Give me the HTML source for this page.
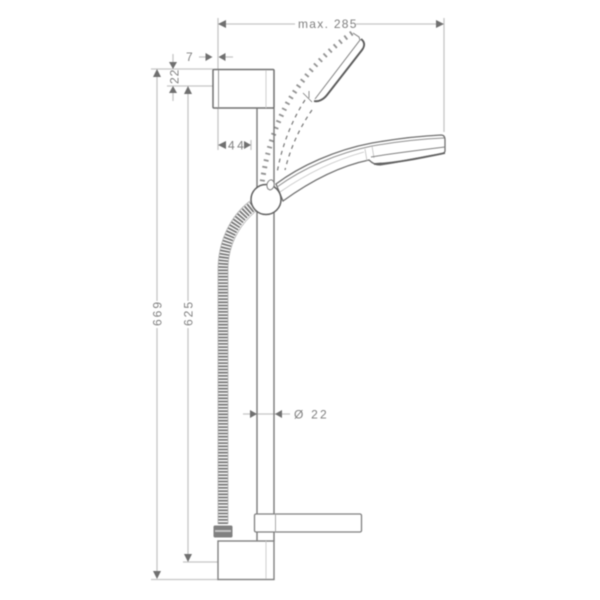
<!DOCTYPE html>
<html>
<head>
<meta charset="utf-8">
<style>
html,body{margin:0;padding:0;background:#fff;width:600px;height:600px;overflow:hidden}
svg{display:block;filter:blur(0.55px)}
text{font-family:"Liberation Sans",sans-serif;font-size:12px;fill:#808080;letter-spacing:2px}
</style>
</head>
<body>
<svg width="600" height="600" viewBox="0 0 600 600" xmlns="http://www.w3.org/2000/svg">
<rect width="600" height="600" fill="#fff"/>
<!-- dimension lines -->
<g stroke="#c6c6c6" stroke-width="1.300" fill="none">
<path d="M218 18V150"/>
<path d="M444 18V132"/>
<path d="M224 24H295M356 24H438"/>
<path d="M199 57H206M224 57H233"/>
<path d="M173 54V63M173 92V101"/>
<path d="M151 69H213M167 86H213"/>
<path d="M157 75V301M157 328V574"/>
<path d="M188 92V301M188 328V557"/>
<path d="M183 562H218M151 579.500H218"/>
<path d="M251 140V150"/>
<path d="M243 414H281M281 414H290"/>
</g>
<g fill="#707070">
<path d="M218 24l8-4v8zM444 24l-8-4v8z"/>
<path d="M212.500 57l-7-4v8zM218.500 57l7-4v8z"/>
<path d="M173 69l-4-7h8zM173 86l-4 7h8z"/>
<path d="M157 69l-4 8h8zM157 579l-4-8h8z"/>
<path d="M188 86l-4 8h8zM188 562l-4-8h8z"/>
<path d="M218 145l8-4v8zM251 145l-7-4v8z"/>
<path d="M257 414l-7-4v8zM275 414l7-4v8z"/>
</g>
<!-- labels -->
<text x="298" y="28" style="letter-spacing:1.300px">max. 285</text>
<text x="186" y="61">7</text>
<text x="228" y="149.500" style="letter-spacing:2.500px">44</text>
<text x="294" y="418.500" style="letter-spacing:2.200px">Ø 22</text>
<text transform="translate(178.500,84) rotate(-90)" style="letter-spacing:1px">22</text>
<text transform="translate(161.500,326) rotate(-90)">669</text>
<text transform="translate(192.500,326) rotate(-90)">625</text>
<!-- rail -->
<g fill="none" stroke="#7a7a7a" stroke-width="1.400">
<path d="M257 108V514M257 532V541"/>
<path d="M274 108V514M274 532V541"/>
</g>
<!-- top bracket -->
<rect x="213" y="69.500" width="61" height="38.500" rx="1" fill="#fff" stroke="#707070" stroke-width="1.500"/>
<path d="M218.500 70V108" stroke="#999" stroke-width="1" fill="none"/>
<path d="M266 70V108" stroke="#cfcfcf" stroke-width="1" fill="none"/>
<!-- bottom bracket -->
<rect x="218" y="541" width="56" height="38.500" fill="#fff" stroke="#808080" stroke-width="1.400"/>
<path d="M266 541V579" stroke="#cfcfcf" stroke-width="1" fill="none"/>
<!-- soap dish -->
<rect x="254.500" y="514" width="107" height="18" rx="1.500" fill="#fff" stroke="#808080" stroke-width="1.300"/>
<path d="M275.500 514V532" stroke="#aaa" stroke-width="1" fill="none"/>
<!-- hose -->
<path d="M223 524V270C223 245 232 222 253 206" fill="none" stroke="#7a7a7a" stroke-width="10" stroke-dasharray="1.800 1.400"/>
<path d="M218 524V270C218 243 229 217 250 201M228 524V270C228 248 236 228 256 211" fill="none" stroke="#b0b0b0" stroke-width="0.800"/>
<rect x="214" y="526" width="18" height="11" rx="1" fill="#808080" stroke="#808080"/>
<rect x="215" y="530" width="16" height="2" fill="#c4c4c4"/>
<!-- dashed head positions -->
<g fill="none" stroke="#777">
<path d="M352 33C325 52 302 78 287 104C274 128 266 155 262 183" stroke-width="5" stroke-dasharray="1.800 5" stroke-opacity=".8"/>
<path d="M305 100C292 120 282 145 277 173" stroke-width="1.200" stroke-dasharray="4 4"/>
<path d="M312 110C298 130 290 150 285 170" stroke-width="1.200" stroke-dasharray="4 4"/>
<path d="M303 93L312 102M309 91V98" stroke-width="0.800"/>
</g>
<path d="M353 33L359 37L360 40L315 99" fill="none" stroke="#808080" stroke-width="1"/>
<path d="M361 39C365 42 365 46 362 50L327 95C323 100 318 102 314 101" fill="none" stroke="#5c5c5c" stroke-width="1.900"/>
<!-- handheld shower -->
<path d="M276 184C300 166 335 150 372 143C395 139 420 136 441 135C444 135 445 137 445 140V151C445 153 443 153 441 154C425 156 400 162 380 165C376 165 372 163 369 160C340 166 312 180 283 201Z" fill="#fff" stroke="#707070" stroke-width="1.300"/>
<path d="M277 187C303 168 338 153 372 146C395 142 420 139 444 138" fill="none" stroke="#909090" stroke-width="1"/>
<path d="M280 192C306 174 335 160 364 152" fill="none" stroke="#c4c4c4" stroke-width="0.800"/>
<path d="M365 149L367 161M372 146L374 158" fill="none" stroke="#b4b4b4" stroke-width="0.700"/>
<path d="M371 157C395 153 420 150 445 147" fill="none" stroke="#808080" stroke-width="1"/>
<path d="M374 164C398 163 425 157 445 153" fill="none" stroke="#606060" stroke-width="1.800"/>
<!-- ball -->
<circle cx="266" cy="199.500" r="15" fill="#fff" stroke="#606060" stroke-width="1.500"/>
<path d="M268 189C265 184 269 179 272 180C276 183 274 189 270 190Z" fill="#fff" stroke="#808080" stroke-width="1"/>
</svg>
</body>
</html>
